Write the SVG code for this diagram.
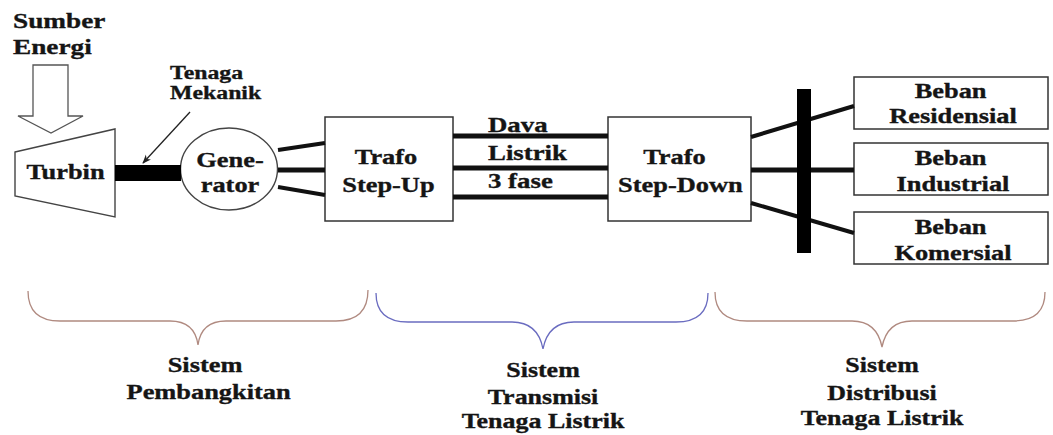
<svg xmlns="http://www.w3.org/2000/svg" width="1053" height="435" viewBox="0 0 1053 435">
  <defs>
    <style>
      .t { font-family: "Liberation Serif", "Times New Roman", serif; font-weight: bold; font-size: 22px; fill: #151515; stroke: #151515; stroke-width: 0.35; }
      .ts { font-size: 19.5px; }
      .box { fill: #fff; stroke: #333; stroke-width: 1.5; }
      .wire { stroke: #111; stroke-width: 4; fill: none; }
      .wire-m { stroke: #111; stroke-width: 5; fill: none; }
      .brace { fill: none; stroke-width: 1.3; }
    </style>
    <marker id="tip" viewBox="0 0 10 10" refX="9" refY="5" markerWidth="9" markerHeight="9" orient="auto" markerUnits="userSpaceOnUse">
      <path d="M0,1 L10,5 L0,9 L3,5 Z" fill="#222"/>
    </marker>
  </defs>
  <rect width="1053" height="435" fill="#fff"/>

  <!-- energy source label and input arrow -->
  <g id="sumber-energi">
    <text class="t" transform="translate(13,0) scale(1.24,1)"><tspan x="0" y="28">Sumber</tspan><tspan x="0" y="54">Energi</tspan></text>
    <polygon points="33,65 68,65 68,116 83,116 51,133 18,116 33,116" fill="#fff" stroke="#555" stroke-width="1.3"/>
  </g>

  <!-- mechanical power callout -->
  <g id="tenaga-mekanik">
    <text class="t ts" transform="translate(170,0) scale(1.22,1)"><tspan x="0" y="79">Tenaga</tspan><tspan x="0" y="99">Mekanik</tspan></text>
    <line x1="190" y1="112" x2="143" y2="163" stroke="#222" stroke-width="1.3" marker-end="url(#tip)"/>
  </g>

  <g id="turbin">
    <polygon points="15,152 115,129 115,217 15,196" fill="#fff" stroke="#444" stroke-width="1.4"/>
    <text class="t" transform="translate(65.5,179) scale(1.2,1)" text-anchor="middle">Turbin</text>
  </g>

  <g id="generator">
    <ellipse cx="229" cy="169" rx="48.5" ry="41" fill="#fff" stroke="#444" stroke-width="1.4"/>
    <text class="t" transform="translate(230,0) scale(1.2,1)" text-anchor="middle"><tspan x="0" y="167">Gene-</tspan><tspan x="0" y="192">rator</tspan></text>
  </g>

  <g id="trafo-step-up">
    <rect class="box" x="325" y="117" width="128" height="104"/>
    <text class="t" transform="translate(386,0) scale(1.2,1)" text-anchor="middle"><tspan x="0" y="164">Trafo</tspan><tspan x="2" y="192">Step-Up</tspan></text>
  </g>

  <g id="trafo-step-down">
    <rect class="box" x="608" y="117" width="143" height="104"/>
    <text class="t" transform="translate(678,0) scale(1.2,1)" text-anchor="middle"><tspan x="-3" y="164">Trafo</tspan><tspan x="2" y="192">Step-Down</tspan></text>
  </g>

  <g id="daya-listrik">
    <text class="t" transform="translate(488,0) scale(1.22,1)"><tspan x="0" y="132">Dava</tspan><tspan x="0" y="160">Listrik</tspan><tspan x="0" y="188">3 fase</tspan></text>
  </g>

  <g id="beban-residensial">
    <rect class="box" x="854" y="77" width="194" height="52"/>
    <text class="t" transform="translate(953,0) scale(1.2,1)" text-anchor="middle"><tspan x="-2" y="98">Beban</tspan><tspan x="0" y="123">Residensial</tspan></text>
  </g>

  <g id="beban-industrial">
    <rect class="box" x="854" y="143" width="194" height="52"/>
    <text class="t" transform="translate(953,0) scale(1.2,1)" text-anchor="middle"><tspan x="-2" y="165">Beban</tspan><tspan x="0" y="191">Industrial</tspan></text>
  </g>

  <g id="beban-komersial">
    <rect class="box" x="854" y="212" width="194" height="52"/>
    <text class="t" transform="translate(953,0) scale(1.2,1)" text-anchor="middle"><tspan x="-2" y="234">Beban</tspan><tspan x="0" y="260">Komersial</tspan></text>
  </g>

  <g id="connectors">
    <!-- turbine shaft -->
    <rect x="115" y="165" width="66" height="16" fill="#000"/>
    <!-- generator to step-up -->
    <line class="wire" x1="278" y1="150" x2="325" y2="143"/>
    <line class="wire-m" x1="278" y1="170" x2="325" y2="170"/>
    <line class="wire" x1="278" y1="187" x2="325" y2="195"/>
    <!-- three-phase transmission -->
    <line class="wire-m" x1="453" y1="136" x2="608" y2="136"/>
    <line class="wire-m" x1="453" y1="168" x2="608" y2="168"/>
    <line class="wire-m" x1="453" y1="197" x2="608" y2="197"/>
    <!-- step-down to loads -->
    <line class="wire" x1="751" y1="137" x2="854" y2="106"/>
    <line class="wire-m" x1="751" y1="170" x2="854" y2="170"/>
    <line class="wire" x1="751" y1="203" x2="854" y2="233"/>
    <!-- distribution bus -->
    <rect x="797" y="89" width="14" height="164" fill="#000"/>
  </g>

  <!-- system braces and labels -->
  <g id="sistem-pembangkitan">
    <path class="brace" stroke="#b08a80" d="M28,291 C28,310 38,321 60,321 L170,321 C188,321 196,330 198,345 C200,330 208,321 226,321 L336,321 C358,321 368,310 368,290"/>
    <text class="t" transform="translate(205,0) scale(1.2,1)" text-anchor="middle"><tspan x="0" y="372">Sistem</tspan><tspan x="3" y="399">Pembangkitan</tspan></text>
  </g>

  <g id="sistem-transmisi">
    <path class="brace" stroke="#6a6cc0" d="M376,293 C376,311 386,322 408,322 L512,322 C531,322 540,333 543,349 C546,333 555,322 574,322 L676,322 C698,322 708,311 708,293"/>
    <text class="t" transform="translate(543,0) scale(1.18,1)" text-anchor="middle"><tspan x="0" y="377">Sistem</tspan><tspan x="0" y="404">Transmisi</tspan><tspan x="0" y="428">Tenaga Listrik</tspan></text>
  </g>

  <g id="sistem-distribusi">
    <path class="brace" stroke="#b08a80" d="M715,292 C715,310 725,321 747,321 L852,321 C871,321 879,332 882,347 C885,332 893,321 912,321 L1013,321 C1035,321 1045,310 1045,292"/>
    <text class="t" transform="translate(882,0) scale(1.18,1)" text-anchor="middle"><tspan x="0" y="372">Sistem</tspan><tspan x="0" y="400">Distribusi</tspan><tspan x="0" y="425">Tenaga Listrik</tspan></text>
  </g>
</svg>
